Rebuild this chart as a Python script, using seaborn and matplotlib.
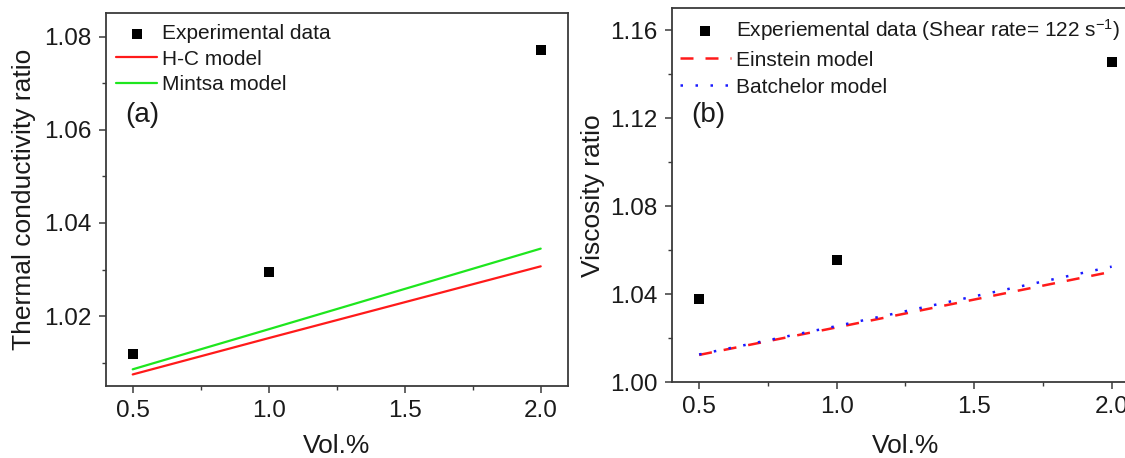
import matplotlib
matplotlib.use("Agg")
import matplotlib.pyplot as plt
from matplotlib.ticker import MultipleLocator, FormatStrFormatter
import seaborn as sns

# Volume fraction of nanoparticles (vol.%)
vol = [0.5, 1.0, 2.0]

# (a) thermal conductivity ratio
tc_exp = [1.0119, 1.0295, 1.0771]
tc_hc = [1.0075, 1.0153, 1.0307]
tc_mintsa = [1.0086, 1.0172, 1.0345]

# (b) viscosity ratio
visc_exp = [1.0378, 1.0558, 1.1456]
visc_einstein = [1.0125, 1.0250, 1.0503]
visc_batchelor = [1.0127, 1.0256, 1.0526]

sns.set_theme(style="ticks")
plt.rcParams["font.family"] = ["Liberation Sans", "DejaVu Sans"]
plt.rcParams["mathtext.fontset"] = "custom"
plt.rcParams["mathtext.rm"] = "Liberation Sans"
plt.rcParams["mathtext.it"] = "Liberation Sans:italic"

TXT = "#1a1a1a"
SPINE = "#3a3a3a"

fig = plt.figure(figsize=(11.25, 4.58), dpi=100, facecolor="white")
ax1 = fig.add_axes([0.0938, 0.157, 0.411, 0.814])
ax2 = fig.add_axes([0.597, 0.165, 0.4156, 0.817])


def style_axes(ax):
    for sp in ax.spines.values():
        sp.set_visible(True)
        sp.set_color(SPINE)
        sp.set_linewidth(1.3)
    ax.tick_params(which="major", direction="out", length=5, width=1.1,
                   color=SPINE, labelsize=17.5, labelcolor=TXT, pad=5,
                   top=False, right=False)
    ax.tick_params(which="minor", direction="out", length=3, width=1.0,
                   color=SPINE, top=False, right=False)
    ax.xaxis.set_major_locator(MultipleLocator(0.5))
    ax.xaxis.set_minor_locator(MultipleLocator(0.25))
    ax.xaxis.set_major_formatter(FormatStrFormatter("%.1f"))
    ax.set_xlim(0.4, 2.1)
    ax.set_facecolor("white")


# ---- (a) thermal conductivity ----
sns.lineplot(x=vol, y=tc_hc, ax=ax1, color="#ff1a1a", linewidth=1.6,
             label="H-C model")
sns.lineplot(x=vol, y=tc_mintsa, ax=ax1, color="#1ee61e", linewidth=1.6,
             label="Mintsa model")
sns.scatterplot(x=vol, y=tc_exp, ax=ax1, marker="s", s=55, color="black",
                linewidth=0, zorder=5, label="Experimental data")
style_axes(ax1)
ax1.set_ylim(1.005, 1.085)
ax1.yaxis.set_major_locator(MultipleLocator(0.02))
ax1.yaxis.set_minor_locator(MultipleLocator(0.01))
ax1.yaxis.set_major_formatter(FormatStrFormatter("%.2f"))
ax1.set_xlabel("Vol.%", fontsize=19, color=TXT)
ax1.set_ylabel("Thermal conductivity ratio", fontsize=19, color=TXT)
ax1.xaxis.set_label_coords(0.5, -0.128)
ax1.yaxis.set_label_coords(-0.151, 0.5)
h, l = ax1.get_legend_handles_labels()
order = [2, 0, 1]
ax1.legend([h[i] for i in order], [l[i] for i in order], loc="upper left",
           bbox_to_anchor=(0.0227, 0.971), borderaxespad=0, borderpad=0,
           frameon=False, fontsize=15, handlelength=1.97, handletextpad=0.26,
           labelspacing=0.32, labelcolor=TXT)
ax1.text(0.042, 0.727, "(a)", transform=ax1.transAxes, fontsize=20,
         color=TXT, va="center", ha="left")

# ---- (b) viscosity ----
sns.lineplot(x=vol, y=visc_einstein, ax=ax2, color="#ff1a1a", linewidth=1.8,
             linestyle=(0, (5.2, 4.8)), label="Einstein model")
sns.lineplot(x=vol, y=visc_batchelor, ax=ax2, color="#1a1aff", linewidth=1.8,
             linestyle=(0, (1, 5)), label="Batchelor model")
sns.scatterplot(x=vol, y=visc_exp, ax=ax2, marker="s", s=55, color="black",
                linewidth=0, zorder=5,
                label=r"Experiemental data (Shear rate= 122 s$^{\mathregular{-1}}$)")
style_axes(ax2)
ax2.set_ylim(1.00, 1.17)
ax2.yaxis.set_major_locator(MultipleLocator(0.04))
ax2.yaxis.set_minor_locator(MultipleLocator(0.02))
ax2.yaxis.set_major_formatter(FormatStrFormatter("%.2f"))
ax2.set_xlabel("Vol.%", fontsize=19, color=TXT)
ax2.set_ylabel("Viscosity ratio", fontsize=19, color=TXT)
ax2.xaxis.set_label_coords(0.5, -0.137)
ax2.yaxis.set_label_coords(-0.142, 0.5)
h, l = ax2.get_legend_handles_labels()
ax2.legend([h[i] for i in order], [l[i] for i in order], loc="upper left",
           bbox_to_anchor=(0.017, 0.977), borderaxespad=0, borderpad=0,
           frameon=False, fontsize=15, handlelength=2.45, handletextpad=0.24,
           labelspacing=0.38, labelcolor=TXT)
ax2.text(0.041, 0.715, "(b)", transform=ax2.transAxes, fontsize=20,
         color=TXT, va="center", ha="left")

fig.savefig("out.png", dpi=100, facecolor="white")
